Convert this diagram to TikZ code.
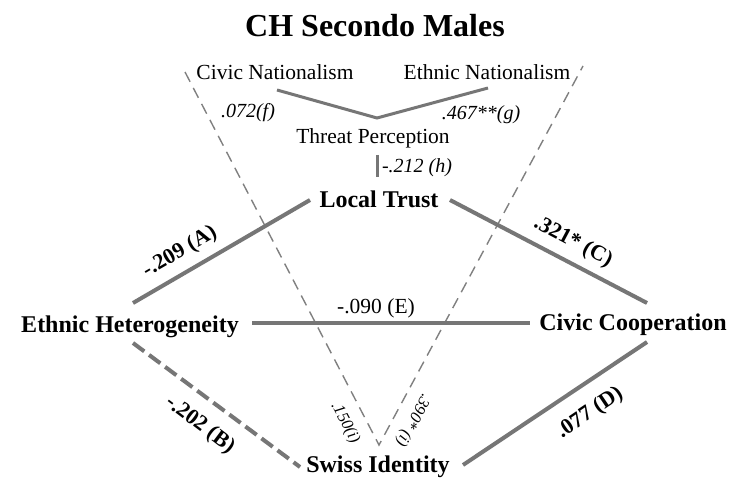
\documentclass[tikz,border=0pt]{standalone}
\usepackage{fontspec}
\setmainfont{Liberation Serif}
\usetikzlibrary{calc}
\definecolor{linkgray}{RGB}{118,118,118}
\definecolor{dashgray}{RGB}{128,128,128}
\tikzset{
  var/.style={inner sep=0pt, anchor=base, font=\fontsize{24}{26}\selectfont\bfseries},
  subvar/.style={inner sep=0pt, anchor=base, font=\fontsize{21.5}{24}\selectfont},
  coef/.style={inner sep=0pt, font=\fontsize{20}{22}\selectfont\itshape},
  plaincoef/.style={inner sep=0pt, font=\fontsize{21.5}{24}\selectfont},
  boldcoef/.style={inner sep=0pt, font=\fontsize{22}{24}\selectfont\bfseries},
  smallcoef/.style={inner sep=0pt, font=\fontsize{16.5}{18}\selectfont\itshape},
  link/.style={draw=linkgray, line width=4pt},
  dashlink/.style={draw=linkgray, line width=4pt, dash pattern=on 14pt off 6pt},
  thinlink/.style={draw=linkgray, line width=3pt},
  guide/.style={draw=dashgray, line width=1.4pt, dash pattern=on 11pt off 7pt}
}
\begin{document}
\begin{tikzpicture}[x=1pt, y=1pt]
  \useasboundingbox (0,0) rectangle (735,480);
  \fill[white] (0,0) rectangle (735,480);

  % title
  \node[inner sep=0pt, anchor=base, font=\fontsize{32}{34}\selectfont\bfseries] (title) at (375,443) {CH Secondo Males};

  % variables
  \node[subvar] (civic)  at (275,400) {Civic Nationalism};
  \node[subvar] (ethnic) at (487,400) {Ethnic Nationalism};
  \node[subvar] (threat) at (373,337) {Threat Perception};
  \node[var] (trust)  at (379,273) {Local Trust};
  \node[var] (hetero) at (130,148) {Ethnic Heterogeneity};
  \node[var] (coop)   at (633,150) {Civic Cooperation};
  \node[var] (swiss)  at (378,8)   {Swiss Identity};

  % dashed guides from the nationalism variables to Swiss identity
  \draw[guide] ($(civic.base)+(-90,8)$) -- ($(swiss.base)+(1,27)$) -- ($(ethnic.base)+(96,14)$);

  % nationalism to threat perception
  \draw[thinlink] ($(civic.base)+(2,-10)$) -- ($(threat.base)+(4,25)$) -- ($(ethnic.base)+(1,-8)$);
  % threat perception to local trust
  \draw[thinlink] ($(threat.base)+(4,-12)$) -- ($(trust.base)+(-2,30)$);

  % main paths
  \draw[link] ($(hetero.base)+(3,29)$) -- ($(trust.base)+(-69,7)$);
  \draw[link] ($(trust.base)+(71,7)$) -- ($(coop.base)+(14,27)$);
  \draw[link] ($(hetero.base)+(122,9)$) -- ($(coop.base)+(-103,7)$);
  \draw[dashlink] ($(hetero.base)+(3,-11)$) -- ($(swiss.base)+(-78,5)$);
  \draw[link] ($(swiss.base)+(85,7)$) -- ($(coop.base)+(14,-12)$);

  % coefficients
  \node[coef] (cf) at (248,367) {.072(f)};
  \node[coef] (cg) at (481,365) {.467**(g)};
  \node[coef] (ch) at (417,312) {-.212 (h)};
  \node[plaincoef, anchor=base] (ce) at (376,167) {-.090 (E)};
  \node[boldcoef, rotate=30]  (ca) at (180,228) {-.209 (A)};
  \node[boldcoef, rotate=-28] (cc) at (573,238) {.321* (C)};
  \node[boldcoef, rotate=-37] (cb) at (200,55)  {-.202 (B)};
  \node[boldcoef, rotate=34]  (cd) at (590,67)  {.077 (D)};
  \node[smallcoef, rotate=-62]  (ci1) at (345,57) {.150(i)};
  \node[smallcoef, rotate=-118] (ci2) at (413,60) {.390* (i)};
\end{tikzpicture}
\end{document}
